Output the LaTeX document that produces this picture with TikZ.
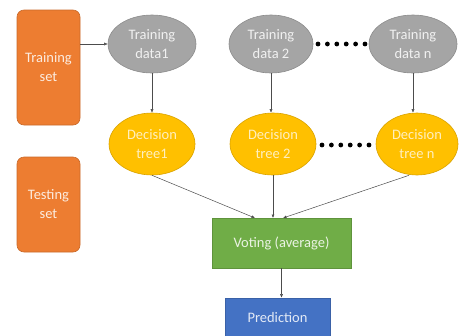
\documentclass[tikz,border=0pt]{standalone}
\usepackage{fontspec}
\setmainfont{Carlito}
\usetikzlibrary{arrows.meta,positioning,shapes.geometric}
\definecolor{setorange}{HTML}{ED7D31}
\definecolor{datagray}{HTML}{A5A5A5}
\definecolor{treeyellow}{HTML}{FFC000}
\definecolor{votegreen}{HTML}{70AD47}
\definecolor{predblue}{HTML}{4472C4}

\begin{document}
\begin{tikzpicture}[x=1pt,y=-1pt,font=\fontsize{14.5}{19}\selectfont,
  setbox/.style={rectangle,rounded corners=7pt,fill=setorange,draw=setorange!85!black,line width=0.6pt,minimum width=63pt,text=white!85!setorange,align=center},
  databall/.style={ellipse,fill=datagray,draw=datagray!85!black,line width=0.6pt,minimum width=88pt,minimum height=58pt,inner sep=0pt,text=white!85!datagray,align=center},
  treeball/.style={ellipse,fill=treeyellow,draw=treeyellow!85!black,line width=0.6pt,minimum width=86pt,minimum height=62pt,inner sep=0pt,text=white!75!treeyellow,align=center},
  flatbox/.style={rectangle,draw=#1!85!black,fill=#1,line width=0.6pt,text=white!85!#1},
  flow/.style={-{Latex[length=3.5pt,width=3pt]},draw=black!70,line width=0.5pt}]
\useasboundingbox (0,0) rectangle (460,335);
% sets
\node[setbox,minimum height=115pt] (trainset) at (48.5,67.5) {Training\\set};
\node[setbox,minimum height=95pt] (testset) at (48.5,204.5) {Testing\\set};
% bootstrap samples
\node[databall] (data1) at (152,44) {Training\\data1};
\node[databall,minimum width=84pt] (data2) at (271,44) {Training\\data 2};
\node[databall] (datan) at (413,44) {Training\\data n};
% trees
\node[treeball] (tree1) at (152,144) {Decision\\tree1};
\node[treeball] (tree2) at (273,144) {Decision\\tree 2};
\node[treeball,minimum width=82pt] (treen) at (417,144) {Decision\\tree n};
% vote and output
\node[flatbox=votegreen,minimum width=139pt,minimum height=50pt] (vote) at (281.5,243) {Voting (average)};
\node[flatbox=predblue,minimum width=105pt,minimum height=40pt] (pred) at (277.5,318) {Prediction};
% ellipsis dots
\foreach \i in {0,...,5} {\fill[black] (318+9.4*\i,44) circle (2.4pt); \fill[black] (322+9.4*\i,145) circle (2.4pt);}
% arrows
\draw[flow] (trainset.east |- data1) -- (data1.west);
\draw[flow] (data1) -- (tree1);
\draw[flow] (data2.south) -- (data2.south |- tree2.north);
\draw[flow] (datan.south) -- (datan.south |- treen.north);
\coordinate (in1) at (255,218);
\coordinate (in2) at (273,218);
\coordinate (in3) at (283,218);
\draw[flow] (tree1.south) -- (in1);
\draw[flow] (tree2.south) -- (in2);
\draw[flow] (treen.south) ++(-8,0) coordinate (outn) (outn) -- (in3);
\draw[flow] (vote.south) -- (vote.south |- pred.north);
\end{tikzpicture}
\end{document}
